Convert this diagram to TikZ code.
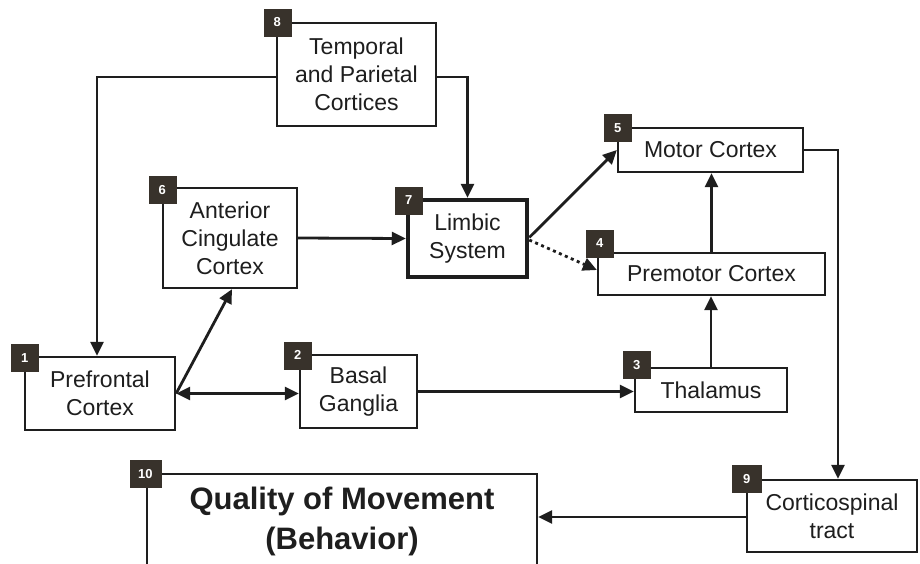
\documentclass[tikz,border=0pt]{standalone}
\usepackage{fontspec}
\setmainfont{Liberation Sans}
\usetikzlibrary{arrows.meta}
\definecolor{ink}{HTML}{1E1E1E}
\definecolor{badgefill}{HTML}{38322B}

\begin{document}
\begin{tikzpicture}[x=1pt,y=-1pt,
  box/.style={draw=ink, line width=2.3pt, fill=white, inner sep=0pt, align=center,
    font=\fontsize{23}{28}\selectfont, text=ink},
  badge/.style={fill=badgefill, draw=badgefill, minimum width=27pt, minimum height=27pt,
    inner sep=0pt, text=white, font=\bfseries\fontsize{13}{14}\selectfont},
  tip/.style={-{Triangle[length=14pt,width=13pt]}},
  link/.style={draw=ink, line width=2.8pt, tip},
  bothway/.style={draw=ink, line width=2.8pt,
    {Triangle[length=14pt,width=13pt]}-{Triangle[length=14pt,width=13pt]}},
]
\useasboundingbox (0,0) rectangle (920,563);
\clip (0,0) rectangle (920,563);

% boxes
\node[box, minimum width=159pt, minimum height=103pt] (b8) at (356.5,74.5) {Temporal\\and Parietal\\Cortices};
\node[box, line width=4.5pt, minimum width=119pt, minimum height=77pt] (b7) at (467.5,238.5) {Limbic\\System};
\node[box, minimum width=134pt, minimum height=100pt] (b6) at (230,238) {Anterior\\Cingulate\\Cortex};
\node[box, minimum width=185pt, minimum height=44pt] (b5) at (710.5,150) {Motor Cortex};
\node[box, minimum width=227pt, minimum height=42pt] (b4) at (711.5,274) {Premotor Cortex};
\node[box, minimum width=152pt, minimum height=44pt] (b3) at (711,390) {Thalamus};
\node[box, minimum width=150pt, minimum height=73pt] (b1) at (100,393.5) {Prefrontal\\Cortex};
\node[box, minimum width=117pt, minimum height=73pt] (b2) at (358.5,391.5) {Basal\\Ganglia};
\node[box, minimum width=170pt, minimum height=72pt] (b9) at (832,516) {Corticospinal\\tract};
\node[box, anchor=north, minimum width=390pt, inner ysep=13pt,
  font=\bfseries\fontsize{31}{40}\selectfont] (b10) at (342,473)
  {Quality of Movement\\(Behavior)\rule[-40pt]{0pt}{0pt}};

% numbered badges on the box corners
\node[badge] (n8) at ([shift={(1.5pt,-0.5pt)}]b8.north west) {8};
\node[badge] (n7) at ([shift={(3pt,-2.5pt)}]b7.north west) {7};
\node[badge] (n6) at ([shift={(0.5pt,-3pt)}]b6.north west) {6};
\node[badge] (n5) at ([shift={(1pt,-1pt)}]b5.north west) {5};
\node[badge] (n4) at ([shift={(3pt,8.5pt)}]b4.north west) {4};
\node[badge] (n3) at ([shift={(3pt,2pt)}]b3.north west) {3};
\node[badge] (n1) at ([shift={(1pt,-2pt)}]b1.north west) {1};
\node[badge] (n2) at ([shift={(-1pt,-1.5pt)}]b2.north west) {2};
\node[badge, minimum width=31pt] (n10) at ([shift={(-0.5pt,-1pt)}]b10.north west) {10};
\node[badge, minimum width=29pt] (n9) at ([shift={(1pt,0pt)}]b9.north west) {9};

% connectors
\draw[link] ([yshift=-2.5pt]b8.west) -| ([xshift=-3pt]b1.north);
\draw[link] ([yshift=-2.5pt]b8.east) -| (b7.north);
\draw[link] (b6.east) -- (b7.west);
\draw[bothway] (b1.east) -- (b1.east -| b2.west);
\draw[link] (b1.east) -- ([xshift=2pt]b6.south);
\draw[link] (b2.east) -- (b2.east -| b3.west);
\draw[link] (b3.north) -- (b3.north |- b4.south);
\draw[link] (b4.north) -- (b4.north |- b5.south);
\draw[link] ([yshift=1pt]b7.east) -- (b5.west);
\draw[draw=ink, line width=2.8pt, dash pattern=on 3pt off 3.5pt, tip]
  ([yshift=-1.5pt]b7.east) -- ([yshift=4pt]b4.west);
\draw[link] (b5.east) -| ([xshift=6pt]b9.north);
\draw[link] ([yshift=-1pt]b9.west) -- ([yshift=-1pt]b9.west -| b10.east);
\end{tikzpicture}
\end{document}
